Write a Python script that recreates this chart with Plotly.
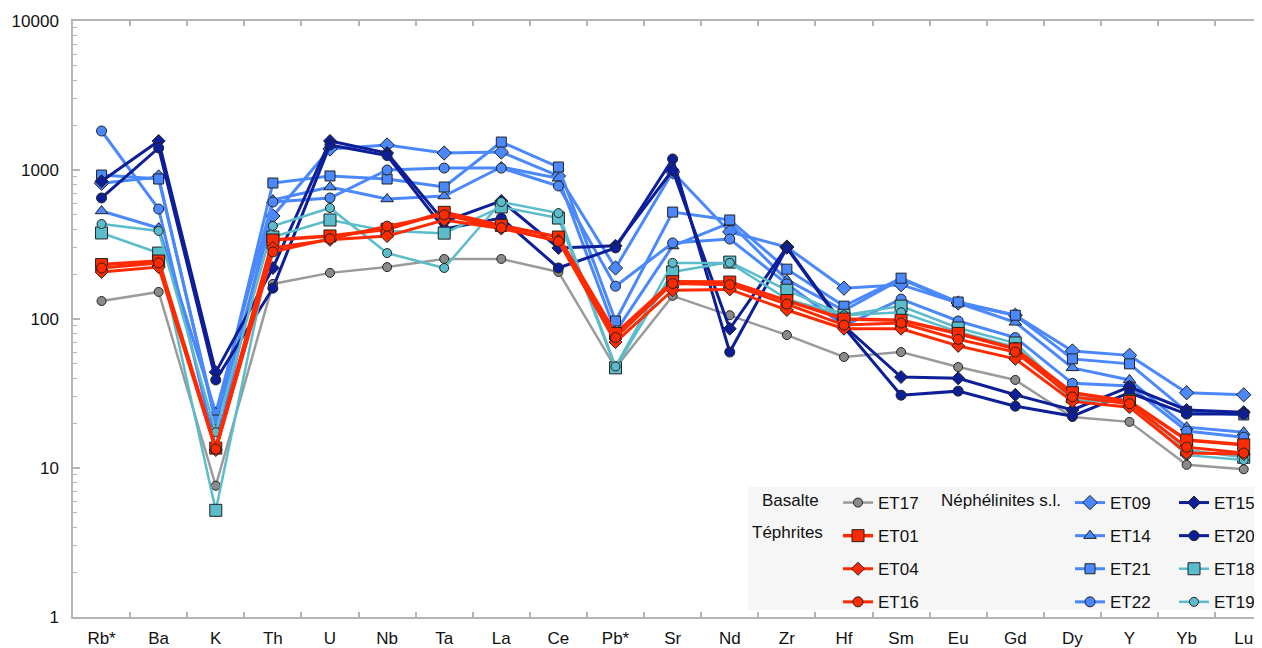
import plotly.graph_objects as go

elements = ["Rb*", "Ba", "K", "Th", "U", "Nb", "Ta", "La", "Ce", "Pb*", "Sr",
            "Nd", "Zr", "Hf", "Sm", "Eu", "Gd", "Dy", "Y", "Yb", "Lu"]

ET17 = [132, 152, 7.6, 172, 204, 223, 253, 253, 207, 47, 143, 106, 78, 55.6, 60, 47.6, 39, 22, 20.4, 10.5, 9.8]
ET01 = [232, 245, 13.6, 339, 361, 400, 520, 425, 355, 80, 178, 177, 133, 100, 98, 80, 63, 32, 28, 15.4, 14.3]
ET04 = [207, 223, 13.2, 300, 340, 360, 462, 405, 335, 70, 156, 158, 115, 86, 86, 66, 54, 28, 25.6, 12.6, 12.4]
ET16 = [220, 238, 13.4, 282, 345, 420, 500, 410, 332, 75, 173, 170, 126, 91, 94, 73, 60, 30, 27, 13.8, 12.6]
ET09 = [815, 897, 20, 491, 1383, 1473, 1300, 1320, 912, 220, 970, 384, 304, 161, 170, 128, 106, 61, 57, 32, 31]
ET14 = [531, 408, 23.5, 629, 769, 639, 669, 1047, 880, 82, 309, 441, 183, 114, 185, 128, 95, 47, 39, 18.8, 17.4]
ET21 = [925, 870, 21, 818, 912, 870, 769, 1540, 1047, 97, 522, 462, 216, 122, 188, 130, 106, 54, 50, 24, 22.7]
ET22 = [1827, 547, 13.6, 610, 649, 1000, 1030, 1030, 781, 166, 324, 344, 172, 90, 136, 97, 75, 37, 35.5, 17.7, 16.1]
ET15 = [840, 1566, 44, 220, 1566, 1300, 450, 620, 300, 310, 1000, 86, 304, 90, 40.8, 40, 31, 24.5, 35, 24.5, 23.7]
ET20 = [649, 1406, 39, 161, 1473, 1250, 402, 476, 220, 300, 1186, 60, 300, 88, 30.8, 32.8, 26, 22.3, 32, 23, 23]
ET18 = [378, 277, 5.2, 355, 462, 390, 377, 565, 476, 47, 207, 241, 156, 106, 122, 87, 69, 30, 28.5, 13.2, 11.8]
ET19 = [434, 390, 17.4, 421, 556, 277, 220, 610, 514, 48, 238, 238, 136, 106, 111, 82, 65, 28.5, 27.6, 12.2, 11.3]

GREY = "#9a9a9a"
RED = "#ff2a00"
LBLUE = "#4a88fb"
NAVY = "#0c1e98"
TEAL = "#5bbccb"

series = [
    # name, values, line color, marker fill, symbol, size, width, legend, rank
    ("ET17", ET17, GREY, "#8a8a8a", "circle", 9, 2.5, "legend", 1),
    ("ET09", ET09, LBLUE, LBLUE, "diamond", 11, 3, "legend2", 1),
    ("ET14", ET14, LBLUE, LBLUE, "triangle-up", 11, 3, "legend2", 2),
    ("ET21", ET21, LBLUE, LBLUE, "square", 10, 3, "legend2", 3),
    ("ET22", ET22, LBLUE, LBLUE, "circle", 10, 3, "legend2", 4),
    ("ET15", ET15, NAVY, NAVY, "diamond", 10, 3, "legend3", 1),
    ("ET20", ET20, NAVY, NAVY, "circle", 10, 3, "legend3", 2),
    ("ET18", ET18, TEAL, TEAL, "square", 12, 2.5, "legend3", 3),
    ("ET19", ET19, TEAL, TEAL, "circle", 9, 2.5, "legend3", 4),
    ("ET01", ET01, RED, RED, "square", 12, 3.5, "legend", 2),
    ("ET04", ET04, RED, RED, "diamond", 10, 3, "legend", 3),
    ("ET16", ET16, RED, RED, "circle", 10, 3, "legend", 4),
]

fig = go.Figure()
for name, vals, lc, mc, sym, size, w, leg, rank in series:
    fig.add_trace(go.Scatter(
        x=elements, y=vals, name=name, mode="lines+markers",
        line=dict(color=lc, width=w),
        marker=dict(symbol=sym, size=size, color=mc, line=dict(color="#222222", width=1)),
        legend=leg, legendgroup=name, legendrank=rank,
    ))

FONT = "Liberation Sans, Arial, Helvetica, sans-serif"
AX = "#b4b4b4"

# the page body has an 8px default margin; size the figure so the plot
# area lands where the reference has it in the 1262x648 window
OFF = 8
W, H = 1262 - OFF, 648 - OFF
L, R, T, B = 73 - OFF, 0, 21 - OFF, 31
pw, ph = W - L - R, H - T - B

def px(x):
    # window pixel -> paper fraction
    return (x - OFF - L) / pw

def py(y):
    return (OFF + H - B - y) / ph

leg_common = dict(bgcolor="rgba(0,0,0,0)", font=dict(family=FONT, size=17, color="#111"),
                  tracegroupgap=8, xanchor="left", yanchor="top", itemwidth=30)

fig.update_layout(
    width=W, height=H,
    margin=dict(l=L, r=R, t=T, b=B, autoexpand=False),
    paper_bgcolor="white", plot_bgcolor="white",
    font=dict(family=FONT, size=17, color="#111"),
    showlegend=True,
    legend=dict(x=px(838), y=py(485), **leg_common),
    legend2=dict(x=px(1070), y=py(485), **leg_common),
    legend3=dict(x=px(1174), y=py(485), **leg_common),
    xaxis=dict(
        type="category", range=[-0.5, 20.32], showgrid=False, zeroline=False,
        showline=True, linecolor=AX, linewidth=1.5, mirror="allticks",
        ticks="inside", tickson="boundaries", ticklen=5, tickcolor=AX, tickwidth=1.5,
        tickfont=dict(family=FONT, size=17, color="#111"), ticklabelstandoff=5,
    ),
    yaxis=dict(
        type="log", range=[0, 4], showgrid=False, zeroline=False,
        showline=True, linecolor=AX, linewidth=1.5,
        tickvals=[1, 10, 100, 1000, 10000], ticktext=["1", "10", "100", "1000", "10000"],
        ticks="inside", ticklen=7, tickcolor=AX, tickwidth=1.5,
        minor=dict(ticks="inside", ticklen=4, tickcolor=AX, tickwidth=1,
                   tickvals=[m * 10 ** e for e in range(4) for m in range(2, 10)]),
        tickfont=dict(family=FONT, size=17, color="#111"), ticklabelstandoff=9,
    ),
    shapes=[dict(type="rect", xref="paper", yref="paper", x0=px(748), x1=px(1262),
                 y0=py(610), y1=py(487), fillcolor="#f6f6f6", line=dict(width=0), layer="below")],
    annotations=[
        dict(text="Basalte", x=px(790), y=py(501), xref="paper", yref="paper",
             showarrow=False, xanchor="center", yanchor="middle", font=dict(family=FONT, size=17, color="#111")),
        dict(text="Téphrites", x=px(787.5), y=py(532), xref="paper", yref="paper",
             showarrow=False, xanchor="center", yanchor="middle", font=dict(family=FONT, size=17, color="#111")),
        dict(text="Néphélinites s.l.", x=px(1001), y=py(501), xref="paper", yref="paper",
             showarrow=False, xanchor="center", yanchor="middle", font=dict(family=FONT, size=17, color="#111")),
    ],
)

fig.write_html("out.html")
